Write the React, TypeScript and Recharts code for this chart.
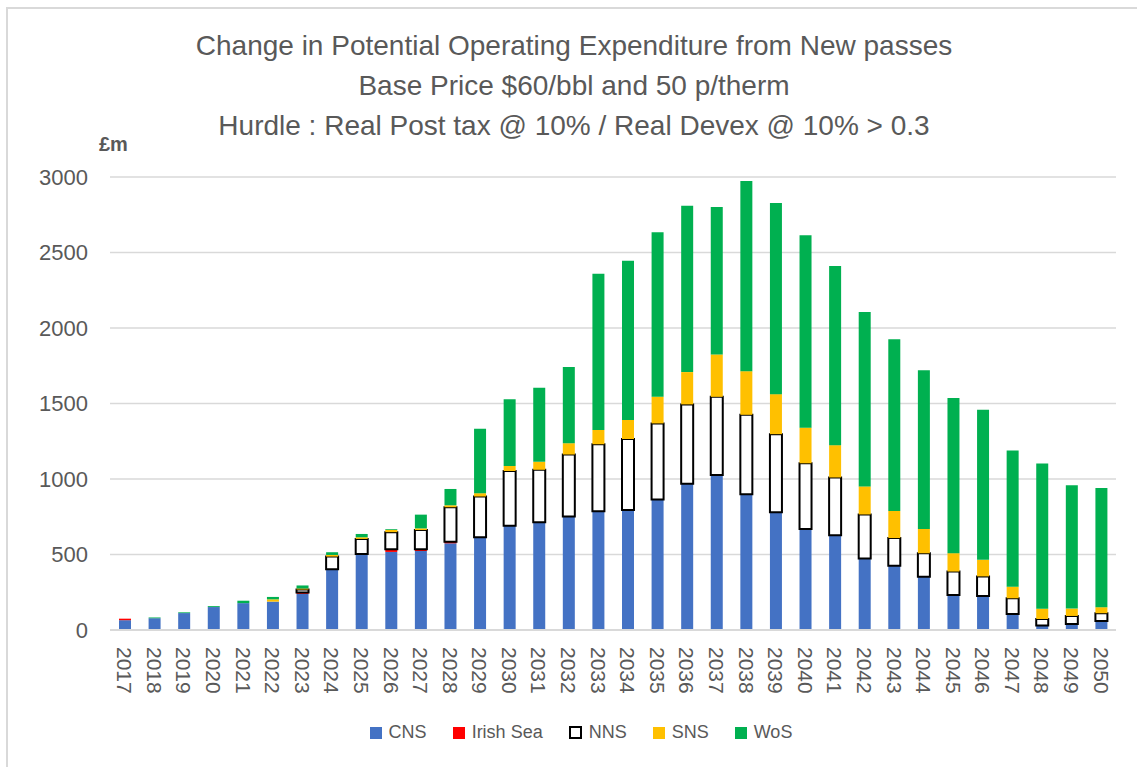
import { BarChart, Bar, XAxis, YAxis, CartesianGrid, Legend } from 'recharts';

const years = [
  '2017', '2018', '2019', '2020', '2021', '2022', '2023', '2024', '2025', '2026', '2027', '2028',
  '2029', '2030', '2031', '2032', '2033', '2034', '2035', '2036', '2037', '2038', '2039', '2040',
  '2041', '2042', '2043', '2044', '2045', '2046', '2047', '2048', '2049', '2050',
];

// £m
const cns = [65, 78, 112, 152, 178, 188, 239, 402, 504, 517, 523, 574, 614, 691, 714, 751, 786, 795, 864, 968, 1027, 899, 780, 669, 628, 473, 426, 353, 232, 225, 106, 29, 40, 60];
const irishSea = [10, 0, 0, 0, 0, 0, 9, 0, 0, 18, 11, 11, 0, 0, 0, 0, 0, 0, 0, 0, 0, 0, 0, 0, 0, 0, 0, 0, 0, 0, 0, 0, 0, 0];
const nns = [0, 0, 0, 0, 0, 0, 20, 84, 99, 113, 128, 228, 270, 362, 347, 411, 444, 470, 504, 526, 517, 526, 517, 435, 382, 292, 183, 155, 155, 130, 104, 44, 53, 51];
const sns = [0, 0, 0, 0, 0, 15, 7, 11, 11, 15, 11, 13, 22, 33, 53, 75, 95, 126, 177, 214, 281, 289, 265, 236, 214, 186, 179, 161, 122, 110, 77, 68, 49, 40];
const wos = [0, 5, 5, 6, 16, 16, 20, 18, 22, 5, 91, 108, 426, 442, 490, 504, 1034, 1054, 1089, 1102, 976, 1259, 1266, 1274, 1186, 1155, 1138, 1051, 1027, 994, 901, 961, 817, 789];

const yTicks = [0, 500, 1000, 1500, 2000, 2500, 3000];

const series = [
  { key: 'CNS', fill: '#4472C4', stroke: 'none' },
  { key: 'Irish Sea', fill: '#FF0000', stroke: 'none' },
  { key: 'NNS', fill: '#FFFFFF', stroke: '#000000' },
  { key: 'SNS', fill: '#FFC000', stroke: 'none' },
  { key: 'WoS', fill: '#00B050', stroke: 'none' },
];

const data = years.map((year, i) => ({
  year,
  CNS: cns[i],
  'Irish Sea': irishSea[i],
  NNS: nns[i],
  SNS: sns[i],
  WoS: wos[i],
}));

const FONT = '"Liberation Sans", Arial, sans-serif';
const GREY = '#595959';

function YearTick({ x, y, payload }: any) {
  return (
    <g transform={`translate(${x},${y})`}>
      <text
        transform="rotate(90)"
        x={9}
        y={0}
        dy="0.36em"
        textAnchor="start"
        fill={GREY}
        fontSize={21}
        fontFamily={FONT}
      >
        {payload.value}
      </text>
    </g>
  );
}

function LegendContent() {
  return (
    <div style={{ display: 'flex', justifyContent: 'center', gap: 26, fontFamily: FONT, fontSize: 18, color: GREY }}>
      {series.map((s) => (
        <div key={s.key} style={{ display: 'flex', alignItems: 'center', gap: 7 }}>
          <span
            style={{
              display: 'inline-block',
              width: s.stroke === 'none' ? 12 : 9,
              height: s.stroke === 'none' ? 12 : 9,
              background: s.fill,
              border: s.stroke === 'none' ? 'none' : `2px solid ${s.stroke}`,
            }}
          />
          <span>{s.key}</span>
        </div>
      ))}
    </div>
  );
}

export default function App() {
  return (
    <div style={{ position: 'absolute', left: 0, top: 0, width: 1137, height: 767, overflow: 'hidden', background: '#fff' }}>
      <div
        style={{
          position: 'absolute', left: 6, top: 7, width: 1200, height: 800,
          borderLeft: '2px solid #d9d9d9', borderTop: '2px solid #d9d9d9',
        }}
      />
      <div
        style={{
          position: 'absolute', left: 0, top: 26, width: 1148, textAlign: 'center',
          fontFamily: FONT, fontSize: 28, lineHeight: '40px', color: GREY,
        }}
      >
        <div>Change in Potential Operating Expenditure from New passes</div>
        <div>Base Price $60/bbl and 50 p/therm</div>
        <div>Hurdle : Real Post tax @ 10% / Real Devex @ 10% &gt; 0.3</div>
      </div>
      <div
        style={{
          position: 'absolute', left: 99, top: 133, fontFamily: FONT, fontSize: 20,
          fontWeight: 'bold', color: GREY,
        }}
      >
        £m
      </div>
      <BarChart
        width={1137}
        height={767}
        data={data}
        margin={{ top: 177, right: 21, bottom: 0, left: 0 }}
        barSize={12}
      >
        <CartesianGrid vertical={false} stroke="#d9d9d9" strokeWidth={1.5} />
        <XAxis
          dataKey="year"
          height={137}
          interval={0}
          tickLine={false}
          axisLine={{ stroke: '#d9d9d9', strokeWidth: 2 }}
          tick={<YearTick />}
        />
        <YAxis
          width={110}
          domain={[0, 3000]}
          ticks={yTicks}
          axisLine={false}
          tickLine={false}
          tickMargin={16}
          tick={{ fill: GREY, fontSize: 22, fontFamily: FONT }}
        />
        <Legend
          layout="horizontal"
          verticalAlign="middle"
          align="center"
          wrapperStyle={{ position: 'absolute', top: 722, left: 0, width: 1162 }}
          content={<LegendContent />}
        />
        {series.map((s) => (
          <Bar
            key={s.key}
            dataKey={s.key}
            stackId="a"
            fill={s.fill}
            stroke={s.stroke}
            strokeWidth={s.stroke === 'none' ? 0 : 2}
            isAnimationActive={false}
          />
        ))}
      </BarChart>
    </div>
  );
}
